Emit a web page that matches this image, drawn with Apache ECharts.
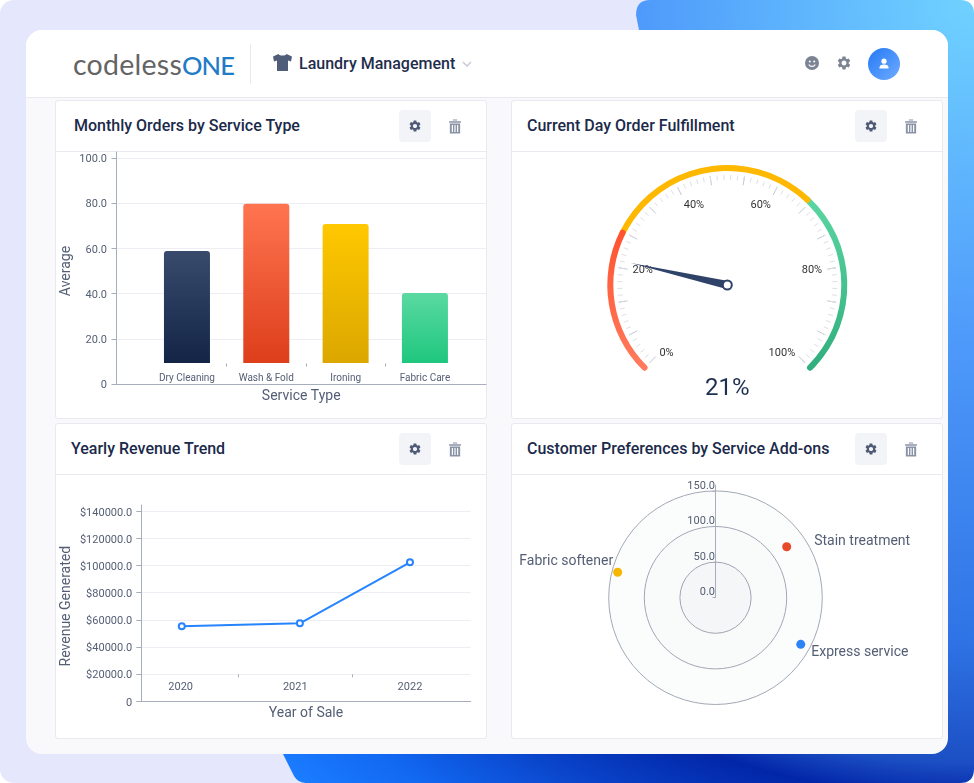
<!DOCTYPE html>
<html>
<head>
<meta charset="UTF-8">
<title>Laundry Management</title>
<script src="https://cdn.jsdelivr.net/npm/echarts@6/dist/echarts.min.js"></script>
<style>
html, body { margin: 0; padding: 0; background: #fff; width: 974px; height: 783px; overflow: hidden; font-family: Roboto, sans-serif; }
#bg { position: absolute; left: 0; top: 0; width: 974px; height: 783px; border-radius: 14px; background: #e5e8fd; }
#shape { position: absolute; left: 0; top: 0; }
#app { position: absolute; left: 26px; top: 30px; width: 922px; height: 724px; border-radius: 16px; background: #f9f9fc; overflow: hidden; }
#top { position: absolute; left: 0; top: 0; width: 922px; height: 67px; background: #fff; border-bottom: 1px solid #e8eaf0; }
.logo { position: absolute; left: 47px; top: 18px; font-family: Lato, sans-serif; font-size: 28.5px; line-height: 32px; color: #646464; letter-spacing: 0.25px; white-space: nowrap; }
.logo b { font-weight: 500; font-size: 25.5px; letter-spacing: -0.9px; color: #1f7cc6; }
.sep { position: absolute; left: 224px; top: 14px; width: 1px; height: 40px; background: #e9ebf0; }
.appname { position: absolute; left: 299px; top: 54px; font-size: 16px; line-height: 20px; font-weight: 500; color: #1f2d4d; }
.card { position: absolute; width: 430px; background: #fff; border: 1px solid #e8eaf0; border-radius: 3px; }
.card h3 { position: absolute; margin: 0; top: 15px; font-size: 16px; line-height: 20px; font-weight: 500; color: #1b2a4a; white-space: nowrap; }
.card .rule { position: absolute; left: 0; top: 50px; width: 430px; height: 1px; background: #e8eaf0; }
.btn { position: absolute; left: 343px; top: 9px; width: 32px; height: 32px; border-radius: 4px; background: #f2f4f8; }
.ico { position: absolute; }
#main { position: absolute; left: 0; top: 0; width: 974px; height: 783px; }
</style>
</head>
<body>
<div id="bg"></div>
<svg id="shape" width="974" height="783">
    <defs>
        <radialGradient id="blue" gradientUnits="userSpaceOnUse" cx="974" cy="0" r="1030">
            <stop offset="0" stop-color="#70d2ff"/>
            <stop offset="0.32" stop-color="#4f9bfb"/>
            <stop offset="0.62" stop-color="#2f74e6"/>
            <stop offset="0.74" stop-color="#1c4fc4"/>
            <stop offset="0.775" stop-color="#0226a8"/>
            <stop offset="0.93" stop-color="#1268f2"/>
            <stop offset="1" stop-color="#1a7cff"/>
        </radialGradient>
    </defs>
    <path fill="url(#blue)" d="M650 0H960Q974 0 974 14V769Q974 783 960 783H306Q298 783 294 776L283 754L639 30L636 15Q636 0 650 0Z"/>
</svg>
<div id="app">
    <div id="top">
        <div class="logo">codeless<b>ONE</b></div>
        <div class="sep"></div>
    </div>
</div>
<div class="appname">Laundry Management</div>
<svg class="ico" style="left:272px;top:53px" width="21" height="19" viewBox="0 0 21 19"><path fill="#4f5d78" d="M6.5 1L1 3.5 2 8.5 5 7.5V18H16V7.5L19 8.5 20 3.5 14.5 1C13.5 3 7.5 3 6.5 1Z"/></svg>
<svg class="ico" style="left:462px;top:60px" width="10" height="8" viewBox="0 0 10 8"><path fill="none" stroke="#c9ced8" stroke-width="1.6" d="M1 2L5 6 9 2"/></svg>
<svg class="ico" style="left:805px;top:56px" width="14" height="14" viewBox="0 0 14 14"><circle cx="7" cy="7" r="7" fill="#7c8494"/><circle cx="4.8" cy="5.4" r="1" fill="#fff"/><circle cx="9.2" cy="5.4" r="1" fill="#fff"/><path fill="none" stroke="#fff" stroke-width="1.1" d="M3.8 8.5C5 11 9 11 10.2 8.5"/></svg>
<svg class="ico" style="left:836px;top:55px" width="16" height="16" viewBox="0 0 24 24"><use href="#gear" fill="#7c8494"/></svg>
<svg class="ico" style="left:868px;top:48px" width="32" height="32" viewBox="0 0 32 32">
    <defs><linearGradient id="av" x1="0" y1="0" x2="1" y2="1"><stop offset="0" stop-color="#2379f5"/><stop offset="1" stop-color="#6fabff"/></linearGradient></defs>
    <circle cx="16" cy="16" r="16" fill="url(#av)"/><circle cx="16" cy="13.2" r="2.6" fill="#fff"/><path fill="#fff" d="M11.4 20.5C11.4 17.5 13.5 16.6 16 16.6S20.6 17.5 20.6 20.5Z"/>
</svg>

<svg width="0" height="0" style="position:absolute">
    <defs>
        <path id="gear" d="M19.14 12.94c.04-.3.06-.61.06-.94 0-.32-.02-.64-.07-.94l2.03-1.58a.49.49 0 0 0 .12-.61l-1.92-3.32a.49.49 0 0 0-.59-.22l-2.39.96c-.5-.38-1.03-.7-1.62-.94l-.36-2.54a.48.48 0 0 0-.48-.41h-3.84c-.24 0-.43.17-.47.41l-.36 2.54c-.59.24-1.13.57-1.62.94l-2.39-.96c-.22-.08-.47 0-.59.22L2.74 8.87c-.12.21-.08.47.12.61l2.03 1.58c-.05.3-.09.63-.09.94s.02.64.07.94l-2.03 1.58a.49.49 0 0 0-.12.61l1.92 3.32c.12.22.37.29.59.22l2.39-.96c.5.38 1.03.7 1.62.94l.36 2.54c.05.24.24.41.48.41h3.84c.24 0 .44-.17.47-.41l.36-2.54c.59-.24 1.13-.56 1.62-.94l2.39.96c.22.08.47 0 .59-.22l1.92-3.32c.12-.22.07-.47-.12-.61l-2.01-1.58zM12 15.6c-1.98 0-3.6-1.62-3.6-3.6s1.62-3.6 3.6-3.6 3.6 1.62 3.6 3.6-1.62 3.6-3.6 3.6z"/>
        <g id="trash"><path d="M4 1.5H8V0.5H4ZM0.5 2H11.5V3.4H0.5Z"/><path fill-rule="evenodd" d="M1.2 4.2H10.8V13.5H1.2ZM3 5.6V12.2H4.1V5.6ZM5.45 5.6V12.2H6.55V5.6ZM7.9 5.6V12.2H9V5.6Z"/></g>
    </defs>
</svg>

<div id="cards"></div>
<div id="main"></div>

<script type="text/javascript">
// 柱状图数据
var serviceTypes = ['Dry Cleaning', 'Wash & Fold', 'Ironing', 'Fabric Care'];
var serviceOrders = [58.8, 79.7, 70.8, 40.3];
var orderTicks = [0, 20, 40, 60, 80, 100];
// 原图的柱子不是从 0 开始，而是停在类目轴上
var barBase = 9.3;

// 折线图数据
var saleYears = ['2020', '2021', '2022'];
var salePoints = [2020.01, 2021.04, 2022];
var revenue = [55300, 57500, 102400];
var revenueTicks = [0, 20000, 40000, 60000, 80000, 100000, 120000, 140000];

// 仪表盘数据
var fulfillment = 21.4;

// 极坐标数据
var addonNames = ['Stain treatment', 'Express service', 'Fabric softener'];
var addonValues = [123, 136.5, 142];
var addonAngles = [54.4, 118.7, 284.6];
var addonTicks = [0, 50, 100, 150];

var barColors = [['#384b6d', '#132447'], ['#ff7450', '#dd3e1b'], ['#ffc800', '#dba700'], ['#5ad9a1', '#1fc77e']];
var addonColors = ['#e8492b', '#2b83f6', '#f5b700'];
var addonLabels = [
    { position: 'right', offset: [18, -5] },
    { position: 'right', offset: [1, 8] },
    { position: 'left', offset: [5, -11] }
];

// 卡片外框
var panels = [
    { x: 55, y: 100, h: 317, title: 'Monthly Orders by Service Type', tx: 18 },
    { x: 511, y: 100, h: 317, title: 'Current Day Order Fulfillment', tx: 15 },
    { x: 55, y: 423, h: 314, title: 'Yearly Revenue Trend', tx: 15 },
    { x: 511, y: 423, h: 314, title: 'Customer Preferences by Service Add-ons', tx: 15 }
];
var cardsHtml = '';
panels.forEach(function (p) {
    cardsHtml += '<div class="card" style="left:' + p.x + 'px;top:' + p.y + 'px;height:' + p.h + 'px">'
        + '<h3 style="left:' + p.tx + 'px">' + p.title + '</h3><div class="rule"></div>'
        + '<div class="btn"><svg class="ico" style="left:9px;top:9px" width="14" height="14" viewBox="0 0 24 24"><use href="#gear" fill="#4f5b76"/></svg></div>'
        + '<svg class="ico" style="left:392px;top:18px" width="14" height="15" viewBox="0 0 12 14"><use href="#trash" fill="#8a93a6"/></svg>'
        + '</div>';
});
document.getElementById('cards').innerHTML = cardsHtml;

var axisColor = '#a6adbb';
var gridColor = '#eceef3';
var labelColor = '#545e74';

function nameStyle(padding) {
    return { color: '#545e74', fontSize: 14, fontFamily: 'Roboto', padding: padding || 0 };
}

var myChart = echarts.init(document.getElementById('main'), null, { renderer: 'canvas' });

var option = {
    animation: false,
    backgroundColor: 'transparent',
    textStyle: { fontFamily: 'Roboto' },
    grid: [
        { left: 116.5, width: 369.5, top: 152, height: 232 },
        { left: 147.3, width: 317.3, top: 152, height: 232 },
        { left: 141.3, width: 329.4, top: 505, height: 196.3 },
        { left: 123.3, width: 344, top: 505, height: 196.3 }
    ],
    xAxis: [
        // 柱状图
        {
            gridIndex: 0, type: 'value', min: 0, max: 1,
            name: 'Service Type', nameLocation: 'middle', nameGap: 5, nameTextStyle: nameStyle(),
            axisLine: { lineStyle: { color: axisColor } }, axisTick: { show: false }, axisLabel: { show: false }, splitLine: { show: false }
        },
        {
            gridIndex: 1, type: 'category', position: 'bottom', data: serviceTypes, offset: -20.5,
            axisLine: { show: false }, axisTick: { show: false },
            axisLabel: { color: labelColor, fontSize: 10, margin: 10, interval: 0 }
        },
        {
            gridIndex: 1, type: 'value', position: 'bottom', min: 0, max: 4, interval: 1, offset: -20.5,
            axisLine: { show: false }, axisLabel: { show: false }, splitLine: { show: false },
            axisTick: { customValues: [1, 2, 3], length: 3, lineStyle: { color: axisColor } }
        },
        // 折线图
        {
            gridIndex: 2, type: 'value', min: 0, max: 1,
            name: 'Year of Sale', nameLocation: 'middle', nameGap: 5, nameTextStyle: nameStyle(),
            axisLine: { lineStyle: { color: axisColor } }, axisTick: { show: false }, axisLabel: { show: false }, splitLine: { show: false }
        },
        {
            gridIndex: 3, type: 'category', position: 'bottom', data: saleYears, offset: -27,
            axisLine: { show: false }, axisTick: { show: false },
            axisLabel: { color: labelColor, fontSize: 11, margin: 7, interval: 0 }
        },
        {
            gridIndex: 3, type: 'value', position: 'bottom', min: 2019.5, max: 2022.5, interval: 0.5, offset: -27,
            axisLine: { show: false }, axisLabel: { show: false }, splitLine: { show: false },
            axisTick: { customValues: [2020.5, 2021.5], length: 3, lineStyle: { color: axisColor } }
        }
    ],
    yAxis: [
        {
            gridIndex: 0, type: 'value', min: 0, max: 102.65, interval: 20,
            name: 'Average', nameLocation: 'middle', nameGap: 43.5, nameTextStyle: nameStyle([0, 6, 0, 0]),
            axisLine: { show: true, lineStyle: { color: axisColor } },
            axisTick: { show: true, length: 5, customValues: orderTicks, lineStyle: { color: axisColor } },
            axisLabel: {
                customValues: orderTicks, color: labelColor, fontSize: 11, margin: 9.5, verticalAlign: 'top', lineHeight: 3,
                formatter: function (v) { return v === 0 ? '0' : v.toFixed(1); }
            },
            splitLine: { lineStyle: { color: gridColor } }
        },
        { gridIndex: 1, type: 'value', min: 0, max: 102.65, show: false },
        {
            gridIndex: 2, type: 'value', min: 0, max: 144640, interval: 20000,
            name: 'Revenue Generated', nameLocation: 'middle', nameGap: 68, nameTextStyle: nameStyle([0, 6, 0, 0]),
            axisLine: { show: true, lineStyle: { color: axisColor } },
            axisTick: { show: true, length: 5, customValues: revenueTicks, lineStyle: { color: axisColor } },
            axisLabel: {
                customValues: revenueTicks, color: labelColor, fontSize: 11, margin: 9, verticalAlign: 'top', lineHeight: 3,
                formatter: function (v) { return v === 0 ? '0' : '$' + v.toFixed(1); }
            },
            splitLine: { lineStyle: { color: gridColor } }
        },
        { gridIndex: 3, type: 'value', min: 0, max: 144640, show: false }
    ],
    polar: { center: [715.5, 597.7], radius: [0, 112.7] },
    angleAxis: {
        type: 'value', min: 0, max: 360, startAngle: 90,
        axisLine: { show: false }, axisTick: { show: false }, axisLabel: { show: false }, splitLine: { show: false }
    },
    radiusAxis: {
        type: 'value', min: 0, max: 158.3, interval: 50,
        axisLine: { lineStyle: { color: axisColor } },
        axisTick: { show: true, length: 3, customValues: addonTicks, lineStyle: { color: axisColor } },
        axisLabel: {
            customValues: addonTicks, color: labelColor, fontSize: 11, margin: 0.5, verticalAlign: 'bottom', lineHeight: 10,
            formatter: function (v) { return v.toFixed(1); }
        },
        splitLine: { show: true, lineStyle: { color: '#a3a9b6', width: 1 } },
        // 底色盖在圆环上面，所以用半透明
        splitArea: { show: true, areaStyle: { color: ['rgba(10,30,50,0.04)', 'rgba(10,50,50,0.025)', 'rgba(10,60,60,0.015)'] } }
    },
    series: [
        {
            type: 'custom',
            coordinateSystem: 'cartesian2d',
            xAxisIndex: 1,
            yAxisIndex: 1,
            data: serviceOrders.map(function (v, i) { return [i, v]; }),
            encode: { x: 0, y: 1 },
            renderItem: function (params, api) {
                var top = api.coord([api.value(0), api.value(1)]);
                var base = api.coord([api.value(0), barBase]);
                var w = api.size([1, 0])[0] * 0.58;
                var colors = barColors[params.dataIndex];
                return {
                    type: 'rect',
                    shape: { x: top[0] - w / 2, y: top[1], width: w, height: base[1] - top[1], r: [3, 3, 0, 0] },
                    style: {
                        fill: new echarts.graphic.LinearGradient(0, 0, 0, 1, [
                            { offset: 0, color: colors[0] },
                            { offset: 1, color: colors[1] }
                        ])
                    }
                };
            }
        },
        {
            type: 'line',
            xAxisIndex: 5,
            yAxisIndex: 3,
            data: revenue.map(function (v, i) { return [salePoints[i], v]; }),
            symbol: 'circle',
            symbolSize: 6,
            lineStyle: { color: '#2684ff', width: 2 },
            itemStyle: { color: '#fff', borderColor: '#2684ff', borderWidth: 2 }
        },
        {
            type: 'gauge',
            center: [727.3, 285],
            radius: 120,
            startAngle: 225,
            endAngle: -45,
            min: 0,
            max: 100,
            splitNumber: 15,
            axisLine: {
                roundCap: true,
                lineStyle: {
                    width: 6,
                    color: [
                        [0.265, new echarts.graphic.LinearGradient(0, 0, 0, 1, [{ offset: 0, color: '#ff5230' }, { offset: 1, color: '#ff7c5e' }])],
                        [0.66, '#ffb800'],
                        [1, new echarts.graphic.LinearGradient(0, 0, 0, 1, [{ offset: 0, color: '#5ad6a2' }, { offset: 1, color: '#30ae7d' }])]
                    ]
                }
            },
            axisTick: { distance: 4, length: 5, splitNumber: 5, lineStyle: { color: '#dcdfe5', width: 1 } },
            splitLine: { distance: 4, length: 9, lineStyle: { color: '#c3c7d1', width: 1 } },
            axisLabel: {
                distance: 11, color: '#333', fontSize: 11,
                formatter: function (v) {
                    var r = Math.round(v);
                    return (r % 20 === 0 && Math.abs(v - r) < 0.01) ? r + '%' : '';
                }
            },
            pointer: { icon: 'path://M5 0L10 100L0 100Z', length: 99, width: 8, itemStyle: { color: '#2f4369' } },
            anchor: { show: true, showAbove: true, size: 9, itemStyle: { color: '#fff', borderColor: '#2f4369', borderWidth: 2 } },
            title: { show: false },
            detail: {
                offsetCenter: [0, 104], fontSize: 24, fontWeight: 400, color: '#1f2f50', fontFamily: 'Roboto',
                formatter: function (v) { return Math.round(v) + '%'; }
            },
            data: [{ value: fulfillment }]
        },
        {
            type: 'scatter',
            coordinateSystem: 'polar',
            symbolSize: 9,
            data: addonValues.map(function (v, i) {
                return {
                    value: [v, addonAngles[i]],
                    name: addonNames[i],
                    itemStyle: { color: addonColors[i], opacity: 1 },
                    label: {
                        show: true, formatter: '{b}', color: '#545e74', fontSize: 14,
                        position: addonLabels[i].position, offset: addonLabels[i].offset
                    }
                };
            })
        }
    ]
};

myChart.setOption(option);
</script>
</body>
</html>
